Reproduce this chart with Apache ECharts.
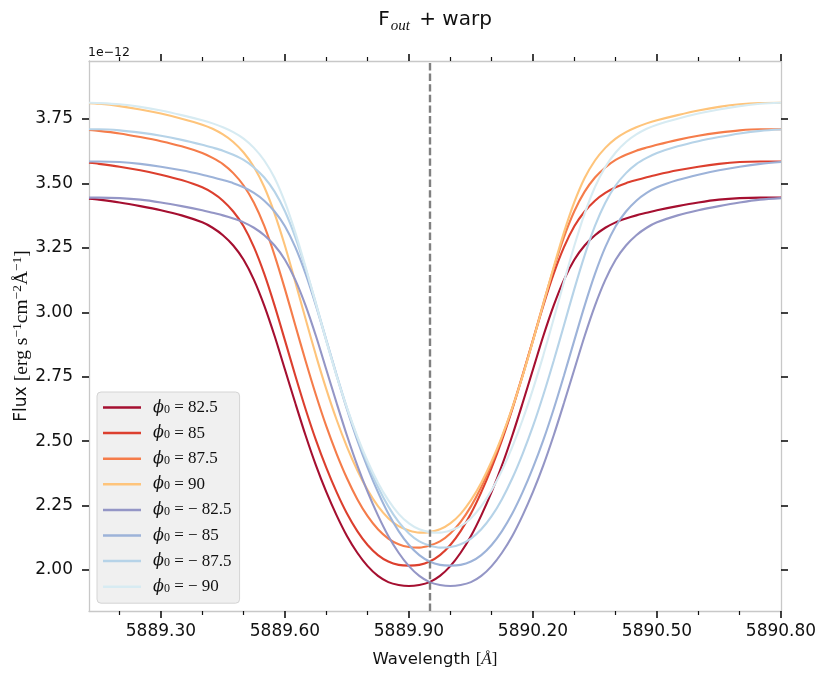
<!DOCTYPE html>
<html><head><meta charset="utf-8">
<script src="https://cdn.jsdelivr.net/npm/echarts@6/dist/echarts.min.js"></script>
<style>html,body{margin:0;padding:0;background:#fff}#c{width:820px;height:673px}</style>
</head><body><div id="c"></div><script>
// ---- data (flux in units of 1e-12) ----
const wavelength = [5889.126, 5889.15, 5889.20, 5889.25, 5889.30, 5889.35,
  5889.40, 5889.425, 5889.45, 5889.475, 5889.50, 5889.525, 5889.55, 5889.575, 5889.60, 5889.625,
  5889.65, 5889.675, 5889.70, 5889.725, 5889.75, 5889.775, 5889.80, 5889.825, 5889.85, 5889.875,
  5889.90, 5889.925, 5889.95, 5889.975, 5890.00, 5890.025, 5890.05, 5890.075, 5890.10, 5890.125,
  5890.15, 5890.175, 5890.20, 5890.225, 5890.25, 5890.275, 5890.30, 5890.325, 5890.35, 5890.375,
  5890.40, 5890.425, 5890.45, 5890.475, 5890.50,
  5890.55, 5890.60, 5890.65, 5890.70, 5890.75, 5890.80];
const phi825 = [3.441, 3.437, 3.426, 3.412, 3.396, 3.376,
  3.349, 3.328, 3.299, 3.259, 3.204, 3.126, 3.026, 2.908, 2.778, 2.648,
  2.522, 2.406, 2.303, 2.212, 2.132, 2.067, 2.015, 1.977, 1.953, 1.942,
  1.938, 1.942, 1.953, 1.977, 2.015, 2.067, 2.132, 2.212, 2.303, 2.406,
  2.522, 2.648, 2.778, 2.908, 3.026, 3.126, 3.204, 3.259, 3.299, 3.328,
  3.349, 3.364, 3.376, 3.386, 3.396,
  3.412, 3.426, 3.437, 3.443, 3.445, 3.445];
const phi85 = [3.580, 3.576, 3.565, 3.551, 3.534, 3.513,
  3.485, 3.463, 3.433, 3.391, 3.334, 3.253, 3.149, 3.026, 2.891, 2.755,
  2.624, 2.504, 2.397, 2.302, 2.219, 2.151, 2.097, 2.058, 2.033, 2.020,
  2.017, 2.020, 2.033, 2.058, 2.097, 2.151, 2.219, 2.302, 2.397, 2.504,
  2.624, 2.755, 2.891, 3.026, 3.149, 3.253, 3.334, 3.391, 3.433, 3.463,
  3.485, 3.501, 3.513, 3.524, 3.534,
  3.551, 3.565, 3.576, 3.583, 3.585, 3.585];
const phi875 = [3.707, 3.704, 3.694, 3.680, 3.664, 3.644,
  3.618, 3.599, 3.575, 3.540, 3.492, 3.425, 3.335, 3.221, 3.090, 2.950,
  2.811, 2.679, 2.558, 2.451, 2.356, 2.275, 2.209, 2.158, 2.122, 2.100,
  2.089, 2.087, 2.095, 2.111, 2.142, 2.187, 2.247, 2.322, 2.412, 2.514,
  2.629, 2.757, 2.893, 3.034, 3.170, 3.292, 3.392, 3.468, 3.523, 3.562,
  3.591, 3.611, 3.627, 3.639, 3.650,
  3.669, 3.685, 3.697, 3.706, 3.710, 3.710];
const phi90 = [3.811, 3.809, 3.800, 3.787, 3.771, 3.751,
  3.728, 3.712, 3.690, 3.661, 3.620, 3.564, 3.486, 3.383, 3.258, 3.118,
  2.974, 2.833, 2.702, 2.583, 2.478, 2.387, 2.310, 2.248, 2.201, 2.170,
  2.153, 2.145, 2.147, 2.158, 2.181, 2.218, 2.271, 2.339, 2.422, 2.519,
  2.629, 2.753, 2.889, 3.032, 3.175, 3.310, 3.427, 3.521, 3.589, 3.638,
  3.674, 3.699, 3.718, 3.733, 3.745,
  3.765, 3.783, 3.797, 3.807, 3.812, 3.813];
const phiM825 = [3.445, 3.445, 3.443, 3.437, 3.426, 3.412,
  3.396, 3.386, 3.376, 3.364, 3.349, 3.328, 3.299, 3.259, 3.204, 3.126,
  3.026, 2.908, 2.778, 2.648, 2.522, 2.406, 2.303, 2.212, 2.132, 2.067,
  2.015, 1.977, 1.953, 1.942, 1.938, 1.942, 1.953, 1.977, 2.015, 2.067,
  2.132, 2.212, 2.303, 2.406, 2.522, 2.648, 2.778, 2.908, 3.026, 3.126,
  3.204, 3.259, 3.299, 3.328, 3.349,
  3.376, 3.396, 3.412, 3.426, 3.437, 3.443];
const phiM85 = [3.585, 3.585, 3.583, 3.576, 3.565, 3.551,
  3.534, 3.524, 3.513, 3.501, 3.485, 3.463, 3.433, 3.391, 3.334, 3.253,
  3.149, 3.026, 2.891, 2.755, 2.624, 2.504, 2.397, 2.302, 2.219, 2.151,
  2.097, 2.058, 2.033, 2.020, 2.017, 2.020, 2.033, 2.058, 2.097, 2.151,
  2.219, 2.302, 2.397, 2.504, 2.624, 2.755, 2.891, 3.026, 3.149, 3.253,
  3.334, 3.391, 3.433, 3.463, 3.485,
  3.513, 3.534, 3.551, 3.565, 3.576, 3.583];
const phiM875 = [3.710, 3.710, 3.706, 3.697, 3.685, 3.669,
  3.650, 3.639, 3.627, 3.611, 3.591, 3.562, 3.523, 3.468, 3.392, 3.292,
  3.170, 3.034, 2.893, 2.757, 2.629, 2.514, 2.412, 2.322, 2.247, 2.187,
  2.142, 2.111, 2.095, 2.087, 2.089, 2.100, 2.122, 2.158, 2.209, 2.275,
  2.356, 2.451, 2.558, 2.679, 2.811, 2.950, 3.090, 3.221, 3.335, 3.425,
  3.492, 3.540, 3.575, 3.599, 3.618,
  3.644, 3.664, 3.680, 3.694, 3.704, 3.709];
const phiM90 = [3.813, 3.812, 3.807, 3.797, 3.783, 3.765,
  3.745, 3.733, 3.718, 3.699, 3.674, 3.638, 3.589, 3.521, 3.427, 3.310,
  3.175, 3.032, 2.889, 2.753, 2.629, 2.519, 2.422, 2.339, 2.271, 2.218,
  2.181, 2.158, 2.147, 2.145, 2.153, 2.170, 2.201, 2.248, 2.310, 2.387,
  2.478, 2.583, 2.702, 2.833, 2.974, 3.118, 3.258, 3.383, 3.486, 3.564,
  3.620, 3.661, 3.690, 3.712, 3.728,
  3.751, 3.771, 3.787, 3.800, 3.809, 3.813];
const seriesLabels = ['82.5', '85', '87.5', '90', '\u2212 82.5', '\u2212 85', '\u2212 87.5', '\u2212 90'];
const seriesValues = [phi825, phi85, phi875, phi90, phiM825, phiM85, phiM875, phiM90];
const xTicks = [5889.30, 5889.60, 5889.90, 5890.20, 5890.50, 5890.80];
const xMinorTicks = [5889.20, 5889.40, 5889.50, 5889.70, 5889.80, 5890.00, 5890.10, 5890.30, 5890.40, 5890.60, 5890.70];
const yTicks = [2.00, 2.25, 2.50, 2.75, 3.00, 3.25, 3.50, 3.75];
const lineCenter = 5889.951;

// ---- style ----
const colors = ['#a50f30', '#dc3f2e', '#f57c4a', '#fec47b', '#9496c6', '#9db3d9', '#b6d3e8', '#d7ebf2'];
const X_MIN = 5889.126, X_MAX = 5890.80, Y_MIN = 1.841, Y_MAX = 3.975;
const frameLine = {show: true, lineStyle: {color: '#c8c8c8', width: 1.3}};
const majorTick = {length: 7, lineStyle: {color: '#111', width: 1.6}};
const minorTick = {length: 4, lineStyle: {color: '#111', width: 1.2}};

function xAx(pos, ticks, tickStyle, showLine, showLabel) {
  return {
    type: 'value', position: pos, min: X_MIN, max: X_MAX,
    axisLine: showLine ? frameLine : {show: false},
    splitLine: {show: false},
    axisTick: Object.assign({show: true, inside: false, customValues: ticks}, tickStyle),
    axisLabel: showLabel ? {show: true, customValues: ticks, formatter: v => v.toFixed(2),
      fontSize: 17, fontFamily: 'DejaVu Sans', color: '#111', margin: 12} : {show: false}
  };
}
function yAx(pos, showLabel) {
  return {
    type: 'value', position: pos, min: Y_MIN, max: Y_MAX,
    axisLine: frameLine, splitLine: {show: false},
    axisTick: Object.assign({show: true, inside: false, customValues: yTicks}, majorTick),
    axisLabel: showLabel ? {show: true, customValues: yTicks, formatter: v => v.toFixed(2),
      fontSize: 17, fontFamily: 'DejaVu Sans', color: '#111', margin: 16} : {show: false}
  };
}

const series = seriesValues.map((vals, i) => ({
  name: 'phi' + i,
  type: 'line',
  data: wavelength.map((w, j) => [w, vals[j]]),
  showSymbol: false,
  smooth: 0.3,
  lineStyle: {width: 2.1, color: colors[i]},
  itemStyle: {color: colors[i]},
  emphasis: {disabled: true},
  xAxisIndex: 0, yAxisIndex: 0
}));
series.push({
  type: 'line', data: [], xAxisIndex: 0, yAxisIndex: 0, silent: true,
  markLine: {symbol: 'none', silent: true, label: {show: false},
    lineStyle: {color: '#808080', width: 2.4, type: [7.4, 3.2]},
    data: [{xAxis: lineCenter}]}
});

const legendNames = series.slice(0, 8).map(s => s.name);
const legendMap = {};
legendNames.forEach((n, i) => legendMap[n] = seriesLabels[i]);

const option = {
  animation: false,
  backgroundColor: '#ffffff',
  grid: {left: 89, right: 39, top: 61, bottom: 62, containLabel: false},
  xAxis: [
    xAx('bottom', xTicks, majorTick, true, true),
    xAx('bottom', xMinorTicks, minorTick, false, false),
    xAx('top', xTicks, majorTick, true, false),
    xAx('top', xMinorTicks, minorTick, false, false)
  ],
  yAxis: [yAx('left', true), yAx('right', false)],
  legend: {
    data: legendNames, orient: 'vertical', left: 97, top: 392,
    icon: 'rect', itemWidth: 38, itemHeight: 2.5, itemGap: 8.6,
    padding: [7, 8, 8, 6],
    backgroundColor: '#f0f0f0', borderColor: '#d4d4d4', borderWidth: 1, borderRadius: 4,
    selectedMode: false,
    formatter: n => '{i|\u03d5}{s|0}{t| = ' + legendMap[n] + '}',
    textStyle: {
      padding: [0, 0, 0, 7],
      rich: {
        i: {fontFamily: 'DejaVu Serif', fontStyle: 'italic', fontSize: 16, lineHeight: 16, color: '#111'},
        s: {fontFamily: 'Liberation Serif', fontSize: 12, lineHeight: 10, verticalAlign: 'bottom', color: '#111'},
        t: {fontFamily: 'Liberation Serif', fontSize: 17, lineHeight: 16, color: '#111'}
      }
    }
  },
  graphic: [
    {type: 'text', x: 435, y: 20, style: {
      text: '{a|F}{b|out}{a| + warp}', align: 'center', verticalAlign: 'middle',
      rich: {
        a: {fontFamily: 'DejaVu Sans', fontSize: 20, lineHeight: 28, fill: '#111'},
        b: {fontFamily: 'Liberation Serif', fontStyle: 'italic', fontSize: 15, lineHeight: 17, verticalAlign: 'bottom', padding: [0, 3, 0, 1], fill: '#111'}
      }}},
    {type: 'text', x: 435, y: 660, style: {
      text: '{a|Wavelength }{m|[}{i|\u00c5}{m|]}', align: 'center', verticalAlign: 'middle',
      rich: {
        a: {fontFamily: 'DejaVu Sans', fontSize: 16.5, lineHeight: 22, fill: '#111'},
        m: {fontFamily: 'Liberation Serif', fontSize: 17, lineHeight: 22, fill: '#111'},
        i: {fontFamily: 'Liberation Serif', fontStyle: 'italic', fontSize: 17, lineHeight: 22, fill: '#111'}
      }}},
    {type: 'text', x: 22, y: 336, rotation: Math.PI / 2, style: {
      text: '{a|Flux }{m|[erg s}{p|\u22121}{m|cm}{p|\u22122}{m|\u00c5}{p|\u22121}{m|]}',
      align: 'center', verticalAlign: 'middle',
      rich: {
        a: {fontFamily: 'DejaVu Sans', fontSize: 17, lineHeight: 24, fill: '#111'},
        m: {fontFamily: 'Liberation Serif', fontSize: 19.5, lineHeight: 24, fill: '#111'},
        p: {fontFamily: 'Liberation Serif', fontSize: 13.5, lineHeight: 12, verticalAlign: 'top', fill: '#111'}
      }}},
    {type: 'text', x: 88, y: 53, style: {
      text: '1e\u221212', align: 'left', verticalAlign: 'middle',
      fontFamily: 'DejaVu Sans', fontSize: 12.5, fill: '#111'}}
  ],
  series: series
};
const chart = echarts.init(document.getElementById('c'), null, {renderer: 'canvas'});
chart.setOption(option);
</script></body></html>
